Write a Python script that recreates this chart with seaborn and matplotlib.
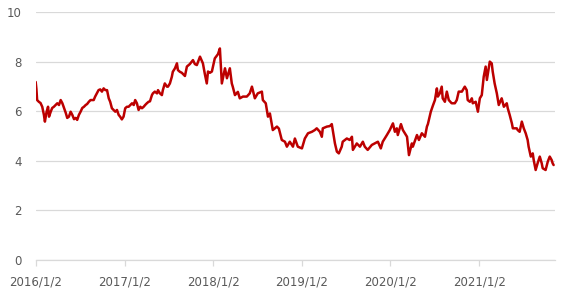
import matplotlib
matplotlib.use("Agg")
import matplotlib.pyplot as plt
import matplotlib.dates as mdates
import pandas as pd
import seaborn as sns

dates = [
    "2016-01-02", "2016-01-05", "2016-01-08", "2016-01-15", "2016-01-22", "2016-01-29",
    "2016-02-05", "2016-02-09", "2016-02-16", "2016-02-22", "2016-02-26", "2016-03-04",
    "2016-03-10", "2016-03-17", "2016-03-24", "2016-03-31", "2016-04-07", "2016-04-14",
    "2016-04-21", "2016-04-28", "2016-05-05", "2016-05-11", "2016-05-18", "2016-05-25",
    "2016-06-01", "2016-06-08", "2016-06-15", "2016-06-21", "2016-06-28", "2016-07-05",
    "2016-07-12", "2016-07-19", "2016-07-26", "2016-08-01", "2016-08-08", "2016-08-15",
    "2016-08-21", "2016-08-28", "2016-09-03", "2016-09-10", "2016-09-17", "2016-09-24",
    "2016-10-01", "2016-10-08", "2016-10-15", "2016-10-22", "2016-10-29", "2016-11-04",
    "2016-11-11", "2016-11-18", "2016-11-25", "2016-12-02", "2016-12-09", "2016-12-15",
    "2016-12-22", "2016-12-29", "2017-01-05", "2017-01-12", "2017-01-19", "2017-01-26",
    "2017-02-02", "2017-02-09", "2017-02-15", "2017-02-22", "2017-03-01", "2017-03-08",
    "2017-03-15", "2017-03-22", "2017-03-28", "2017-04-04", "2017-04-11", "2017-04-17",
    "2017-04-25", "2017-04-29", "2017-05-07", "2017-05-16", "2017-05-20", "2017-05-28",
    "2017-06-05", "2017-06-09", "2017-06-17", "2017-06-26", "2017-06-30", "2017-07-08",
    "2017-07-16", "2017-07-20", "2017-07-29", "2017-08-06", "2017-08-10", "2017-08-18",
    "2017-08-26", "2017-09-08", "2017-09-16", "2017-09-28", "2017-10-11", "2017-10-19",
    "2017-10-27", "2017-11-09", "2017-11-21", "2017-11-29", "2017-12-07", "2017-12-12",
    "2017-12-20", "2017-12-28", "2018-01-09", "2018-01-22", "2018-01-30", "2018-02-07",
    "2018-02-20", "2018-02-28", "2018-03-12", "2018-03-20", "2018-03-24", "2018-04-02",
    "2018-04-14", "2018-04-22", "2018-05-05", "2018-05-21", "2018-06-02", "2018-06-11",
    "2018-06-23", "2018-07-05", "2018-07-22", "2018-07-26", "2018-08-07", "2018-08-16",
    "2018-08-24", "2018-09-05", "2018-09-22", "2018-09-30", "2018-10-12", "2018-10-25",
    "2018-11-02", "2018-11-14", "2018-11-27", "2018-12-05", "2018-12-17", "2019-01-03",
    "2019-01-15", "2019-01-28", "2019-02-13", "2019-02-25", "2019-03-05", "2019-03-18",
    "2019-03-26", "2019-03-30", "2019-04-16", "2019-04-28", "2019-05-06", "2019-05-10",
    "2019-05-19", "2019-05-27", "2019-06-04", "2019-06-16", "2019-06-20", "2019-07-07",
    "2019-07-19", "2019-07-28", "2019-08-01", "2019-08-17", "2019-08-30", "2019-09-11",
    "2019-09-19", "2019-10-01", "2019-10-18", "2019-10-30", "2019-11-12", "2019-11-24",
    "2019-12-02", "2019-12-19", "2019-12-31", "2020-01-13", "2020-01-21", "2020-01-29",
    "2020-02-02", "2020-02-15", "2020-02-23", "2020-03-11", "2020-03-19", "2020-03-31",
    "2020-04-04", "2020-04-21", "2020-04-29", "2020-05-11", "2020-05-24", "2020-06-01",
    "2020-06-05", "2020-06-17", "2020-06-25", "2020-07-04", "2020-07-12", "2020-07-16",
    "2020-07-24", "2020-08-01", "2020-08-05", "2020-08-14", "2020-08-22", "2020-08-30",
    "2020-09-11", "2020-09-24", "2020-10-02", "2020-10-10", "2020-10-23", "2020-11-04",
    "2020-11-12", "2020-11-16", "2020-11-25", "2020-12-03", "2020-12-07", "2020-12-19",
    "2020-12-28", "2021-01-05", "2021-01-13", "2021-01-21", "2021-01-29", "2021-02-03",
    "2021-02-15", "2021-02-23", "2021-02-27", "2021-03-07", "2021-03-16", "2021-03-24",
    "2021-04-05", "2021-04-14", "2021-04-26", "2021-04-30", "2021-05-08", "2021-05-17",
    "2021-05-21", "2021-06-06", "2021-06-10", "2021-06-18", "2021-06-27", "2021-07-05",
    "2021-07-13", "2021-07-21", "2021-07-25", "2021-08-03", "2021-08-11", "2021-08-15",
    "2021-08-23", "2021-08-31", "2021-09-09", "2021-09-17", "2021-09-21", "2021-10-03",
    "2021-10-12", "2021-10-20", "2021-10-28", "2021-11-01", "2021-11-05",
]

values = [
    7.18, 6.90, 6.45, 6.38, 6.33, 6.18,
    5.85, 5.58, 5.98, 6.18, 5.78, 5.98,
    6.13, 6.18, 6.25, 6.32, 6.25, 6.45,
    6.32, 6.13, 5.93, 5.73, 5.78, 5.98,
    5.85, 5.68, 5.73, 5.65, 5.85, 5.98,
    6.13, 6.18, 6.25, 6.29, 6.38, 6.45,
    6.45, 6.45, 6.59, 6.72, 6.85, 6.88,
    6.79, 6.92, 6.85, 6.85, 6.52, 6.38,
    6.12, 6.05, 5.98, 6.05, 5.85, 5.78,
    5.67, 5.78, 6.12, 6.18, 6.18, 6.25,
    6.32, 6.25, 6.45, 6.32, 6.05, 6.18,
    6.12, 6.18, 6.25, 6.32, 6.38, 6.40,
    6.65, 6.72, 6.79, 6.72, 6.85, 6.72,
    6.65, 6.85, 7.12, 6.99, 6.99, 7.12,
    7.39, 7.59, 7.73, 7.93, 7.66, 7.59,
    7.55, 7.42, 7.80, 7.90, 8.06, 7.90,
    7.86, 8.20, 7.93, 7.50, 7.12, 7.60,
    7.55, 7.60, 8.13, 8.30, 8.53, 7.12,
    7.73, 7.33, 7.73, 7.12, 6.99, 6.65,
    6.78, 6.52, 6.59, 6.59, 6.72, 6.99,
    6.52, 6.72, 6.79, 6.45, 6.32, 5.78,
    5.91, 5.24, 5.38, 5.30, 4.84, 4.77,
    4.57, 4.77, 4.57, 4.90, 4.57, 4.50,
    4.90, 5.11, 5.17, 5.24, 5.31, 5.17,
    4.97, 5.31, 5.38, 5.40, 5.48, 5.24,
    4.70, 4.37, 4.30, 4.57, 4.77, 4.90,
    4.84, 4.97, 4.44, 4.70, 4.57, 4.77,
    4.57, 4.44, 4.64, 4.70, 4.77, 4.50,
    4.77, 5.04, 5.24, 5.51, 5.17, 5.31,
    5.04, 5.48, 5.24, 4.97, 4.23, 4.70,
    4.57, 5.04, 4.84, 5.11, 4.97, 5.38,
    5.48, 5.98, 6.21, 6.45, 6.92, 6.59,
    6.72, 6.99, 6.52, 6.38, 6.79, 6.45,
    6.32, 6.32, 6.45, 6.79, 6.79, 6.99,
    6.85, 6.45, 6.38, 6.52, 6.32, 6.38,
    5.98, 6.52, 6.65, 7.39, 7.80, 7.26,
    8.00, 7.93, 7.60, 7.12, 6.72, 6.25,
    6.52, 6.18, 6.32, 6.12, 5.85, 5.51,
    5.31, 5.31, 5.24, 5.17, 5.58, 5.31,
    5.11, 4.84, 4.57, 4.17, 4.30, 4.03,
    3.63, 3.90, 4.17, 3.90, 3.70, 3.63,
    3.97, 4.17, 4.03, 3.90, 3.83,
]

tick_dates = ["2016-01-02", "2017-01-02", "2018-01-02", "2019-01-02", "2020-01-02", "2021-01-02"]
tick_labels = ["2016/1/2", "2017/1/2", "2018/1/2", "2019/1/2", "2020/1/2", "2021/1/2"]
y_ticks = [0, 2, 4, 6, 8, 10]

df = pd.DataFrame({"date": pd.to_datetime(dates), "value": values})

sns.set_theme(style="white")
plt.rcParams["font.family"] = ["DejaVu Sans"]

fig = plt.figure(figsize=(5.61, 2.93), dpi=100)
ax = fig.add_axes([0.0636, 0.1126, 0.989 - 0.0636, 0.959 - 0.1126])

sns.lineplot(data=df, x="date", y="value", color="#BC0000", linewidth=1.8, ax=ax)

ax.set_ylim(0, 10)
ax.set_yticks(y_ticks)
ax.set_yticklabels([str(v) for v in y_ticks])
ax.set_xlim(pd.Timestamp("2016-01-02"), pd.Timestamp("2021-11-10"))
ax.set_xticks([mdates.date2num(pd.Timestamp(d)) for d in tick_dates])
ax.set_xticklabels(tick_labels)

ax.grid(axis="y", color="#D9D9D9", linewidth=0.9)
ax.set_axisbelow(True)
for s in ["top", "right", "left"]:
    ax.spines[s].set_visible(False)
ax.spines["bottom"].set_color("#D9D9D9")
ax.spines["bottom"].set_linewidth(0.9)

ax.tick_params(axis="x", colors="#595959", labelsize=8.5, length=4, width=0.9,
               color="#D9D9D9", pad=7, direction="out", bottom=True)
ax.tick_params(axis="y", colors="#595959", labelsize=8.5, length=0, pad=10)
ax.set_xlabel("")
ax.set_ylabel("")

fig.savefig("out.png", dpi=100)
